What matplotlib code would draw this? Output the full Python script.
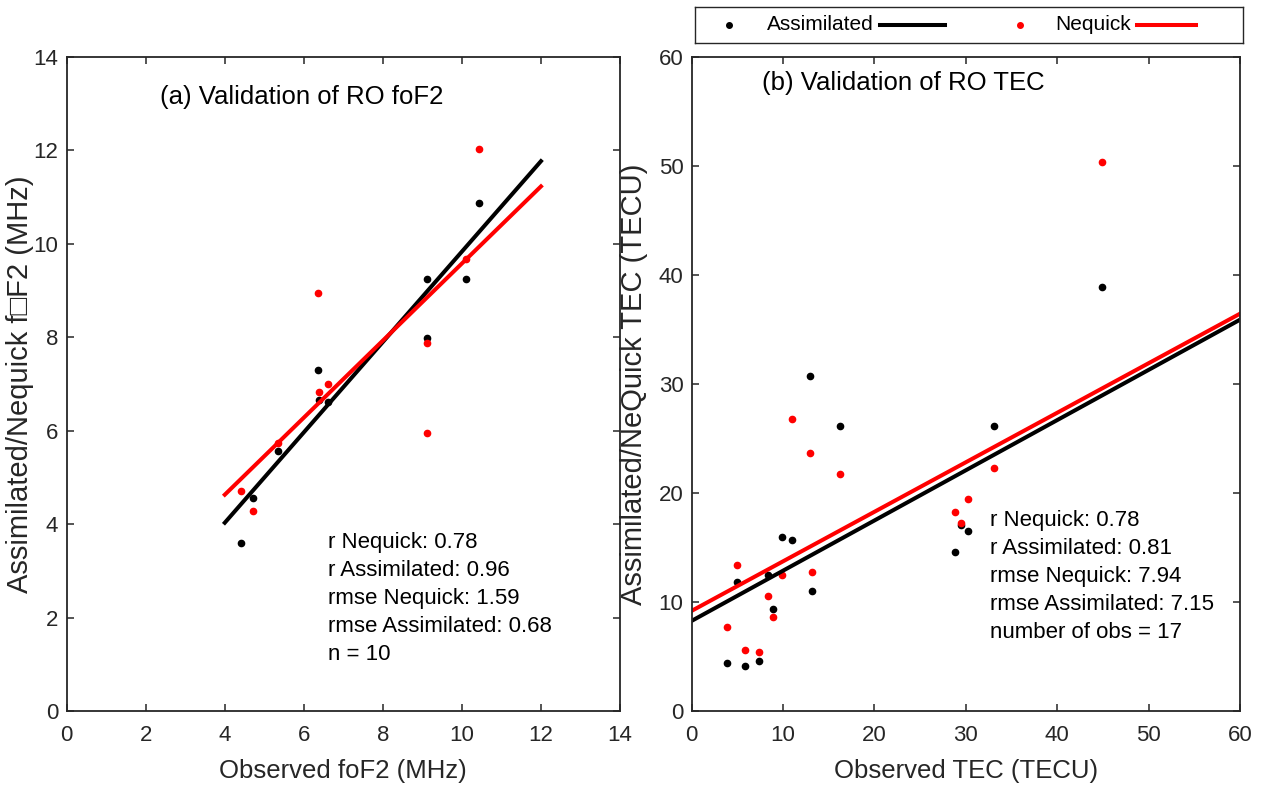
import matplotlib
matplotlib.use('Agg')
from matplotlib import pyplot as plt

plt.rcParams['font.family'] = ['Liberation Sans', 'DejaVu Sans']

# (a) foF2 in MHz
FOF2_OBS = [4.40, 4.72, 5.34, 6.37, 6.39, 6.60, 9.11, 9.12, 10.10, 10.44]
FOF2_ASSIM = [3.60, 4.57, 5.57, 7.29, 6.65, 6.61, 9.25, 7.98, 9.24, 10.87]
FOF2_NEQ = [4.71, 4.28, 5.74, 8.94, 6.82, 6.99, 7.87, 5.96, 9.67, 12.03]
FOF2_FIT_X = [4, 12]
FOF2_FIT_ASSIM = [4.03, 11.77]
FOF2_FIT_NEQ = [4.63, 11.23]
FOF2_STATS = ['r Nequick: 0.78', 'r Assimilated: 0.96', 'rmse Nequick: 1.59',
              'rmse Assimilated: 0.68', 'n = 10']

# (b) TEC in TECU
TEC_OBS = [3.90, 4.92, 5.87, 7.40, 8.38, 8.93, 9.91, 11.0, 13.0, 13.15,
           16.21, 28.82, 29.47, 30.24, 33.11, 44.95]
TEC_ASSIM = [4.42, 11.81, 4.15, 4.55, 12.45, 9.37, 15.96, 15.66, 30.77, 11.02,
             26.16, 14.56, 17.06, 16.48, 26.16, 38.92]
TEC_NEQ = [7.72, 13.43, 5.62, 5.37, 10.56, 8.64, 12.45, 26.83, 23.69, 12.76,
           21.70, 18.28, 17.22, 19.47, 22.31, 50.37]
TEC_FIT_X = [0, 60]
TEC_FIT_ASSIM = [8.27, 35.9]
TEC_FIT_NEQ = [9.19, 36.45]
TEC_STATS = ['r Nequick: 0.78', 'r Assimilated: 0.81', 'rmse Nequick: 7.94',
             'rmse Assimilated: 7.15', 'number of obs = 17']

W, H = 1266, 787
AX_COL = (0.15, 0.15, 0.15)


def style_axes(ax, lim, step):
    ax.set_xlim(0, lim)
    ax.set_ylim(0, lim)
    ax.set_xticks(range(0, lim + 1, step))
    ax.set_yticks(range(0, lim + 1, step))
    ax.tick_params(direction='in', length=5, width=1.1, top=True, right=True,
                   labelsize=16, colors=AX_COL)
    ax.tick_params(axis='x', pad=10)
    ax.tick_params(axis='y', pad=6)
    for sp in ax.spines.values():
        sp.set_linewidth(1.3)
        sp.set_color(AX_COL)


def draw_panel(ax, obs, assim, neq, fit_x, fit_assim, fit_neq,
               title, title_pos, stats, stats_x, stats_y):
    ax.plot(obs, assim, 'o', color='k', markersize=4.5, linestyle='none')
    ax.plot(obs, neq, 'o', color='r', markersize=4.5, linestyle='none')
    ax.plot(fit_x, fit_assim, color='k', linewidth=2.9)
    ax.plot(fit_x, fit_neq, color='r', linewidth=2.9)
    ax.text(title_pos[0], title_pos[1], title, transform=ax.transAxes,
            fontsize=18.5, va='center', ha='left')
    for i, line in enumerate(stats):
        ax.text(stats_x, stats_y - i * 28 / 654, line, transform=ax.transAxes,
                fontsize=16, va='center', ha='left')


def set_labels(ax, xlabel, ylabel, ylabel_x):
    ax.set_xlabel(xlabel, fontsize=18.5, color=AX_COL)
    ax.xaxis.set_label_coords(0.5, (711 - 771) / 654)
    ax.xaxis.label.set_va('center')
    ax.set_ylabel(ylabel, fontsize=21, color=AX_COL)
    ax.yaxis.set_label_coords(ylabel_x, 0.5)
    ax.yaxis.label.set_va('center')


fig = plt.figure(figsize=(W / 100, H / 100), dpi=100)
ax1 = fig.add_axes([66.7 / W, 1 - 711 / H, 553.3 / W, 654 / H])
ax2 = fig.add_axes([691.7 / W, 1 - 711 / H, 548.3 / W, 654 / H])

draw_panel(ax1, FOF2_OBS, FOF2_ASSIM, FOF2_NEQ, FOF2_FIT_X, FOF2_FIT_ASSIM,
           FOF2_FIT_NEQ, '(a) Validation of RO foF2', (0.169, 0.939),
           FOF2_STATS, 0.472, 0.257)
style_axes(ax1, 14, 2)
set_labels(ax1, 'Observed foF2 (MHz)', 'Assimilated/Nequick f\u25a1F2 (MHz)',
           (20 - 66.7) / 553.3)

draw_panel(ax2, TEC_OBS, TEC_ASSIM, TEC_NEQ, TEC_FIT_X, TEC_FIT_ASSIM,
           TEC_FIT_NEQ, '(b) Validation of RO TEC', (0.128, 0.960),
           TEC_STATS, 0.544, 0.292)
style_axes(ax2, 60, 10)
set_labels(ax2, 'Observed TEC (TECU)', 'Assimilated/NeQuick TEC (TECU)',
           (634 - 691.7) / 548.3)

# legend box across the top of panel (b)
leg = fig.add_axes([695 / W, 1 - 43 / H, 548 / W, 36 / H])
leg.set_xlim(0, 548)
leg.set_ylim(0, 36)
leg.set_xticks([])
leg.set_yticks([])
for sp in leg.spines.values():
    sp.set_linewidth(1.0)
    sp.set_color(AX_COL)
leg.plot([34], [18], 'o', color='k', markersize=4)
leg.text(72, 18, 'Assimilated', fontsize=15, va='center', ha='left')
leg.plot([185, 250], [18, 18], color='k', linewidth=2.9)
leg.plot([325], [18], 'o', color='r', markersize=4)
leg.text(360, 18, 'Nequick', fontsize=15, va='center', ha='left')
leg.plot([442, 501], [18, 18], color='r', linewidth=2.9)

fig.savefig('out.png', dpi=100)
